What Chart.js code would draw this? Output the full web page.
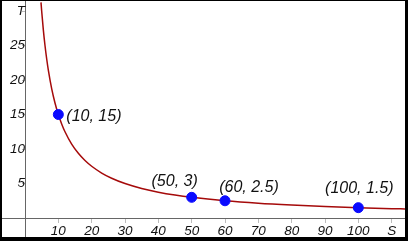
<!DOCTYPE html>
<html>
<head>
<meta charset="utf-8">
<script src="https://cdn.jsdelivr.net/npm/chart.js@4/dist/chart.umd.min.js"></script>
<style>
  html, body { margin: 0; padding: 0; background: #000; width: 408px; height: 241px; overflow: hidden; }
  #wrap { position: absolute; left: 2px; top: 1px; width: 403px; height: 236px; background: #fff; }
</style>
</head>
<body>
<div id="wrap"><canvas id="c"></canvas></div>
<script>
// Curve T versus S
const curveS = [4.8, 5, 5.5, 6, 6.5, 7, 8, 9, 10, 11, 12, 14, 16, 18, 20, 23, 26, 30, 35, 40, 45, 50, 60, 70, 80, 90, 100, 110, 114];
const curveT = [31.25, 30, 27.27, 25, 23.08, 21.43, 18.75, 16.67, 15, 13.64, 12.5, 10.71, 9.38, 8.33, 7.5, 6.52, 5.77, 5, 4.29, 3.75, 3.33, 3, 2.5, 2.14, 1.88, 1.67, 1.5, 1.36, 1.32];
// Highlighted points
const pointS = [10, 50, 60, 100];
const pointT = [15, 3, 2.5, 1.5];
// Tick labels
const xTicks = [10, 20, 30, 40, 50, 60, 70, 80, 90, 100];
const yTicks = [5, 10, 15, 20, 25];
const xAxisName = 'S';
const yAxisName = 'T';

const curveData = curveS.map((s, i) => ({ x: s, y: curveT[i] }));
const pointData = pointS.map((s, i) => ({ x: s, y: pointT[i] }));

const labelOffsets = [
  { dx: 8, dy: 2, align: 'left' },
  { dx: -17, dy: -16, align: 'center' },
  { dx: 24, dy: -13, align: 'center' },
  { dx: 1, dy: -19, align: 'center' }
];

const pointLabelPlugin = {
  id: 'pointLabels',
  afterDatasetsDraw(chart) {
    const ctx = chart.ctx;
    const xs = chart.scales.x, ys = chart.scales.y;
    ctx.save();
    ctx.font = 'italic 16px "Liberation Sans", Arial, sans-serif';
    ctx.fillStyle = '#111';
    ctx.textBaseline = 'middle';
    pointS.forEach((s, i) => {
      const px = xs.getPixelForValue(s);
      const py = ys.getPixelForValue(pointT[i]);
      const o = labelOffsets[i];
      ctx.textAlign = o.align;
      ctx.fillText('(' + s + ', ' + pointT[i] + ')', px + o.dx, py + o.dy);
    });
    ctx.restore();
  }
};

const zeroPad = (s) => { s.paddingLeft = 0; s.paddingRight = 0; s.paddingTop = 0; s.paddingBottom = 0; };

new Chart(document.getElementById('c'), {
  type: 'scatter',
  data: {
    datasets: [
      {
        type: 'line',
        data: curveData,
        borderColor: '#a50a0a',
        borderWidth: 1.5,
        pointRadius: 0,
        fill: false,
        cubicInterpolationMode: 'monotone',
        order: 2
      },
      {
        data: pointData,
        backgroundColor: '#0a0aff',
        borderColor: '#0a0aff',
        pointRadius: 5,
        order: 1
      }
    ]
  },
  options: {
    responsive: true,
    maintainAspectRatio: false,
    animation: false,
    layout: { padding: 0, autoPadding: false },
    plugins: { legend: { display: false }, tooltip: { enabled: false } },
    scales: {
      x: {
        type: 'linear',
        position: { y: 0 },
        min: -6.9,
        max: 114,
        afterFit: zeroPad,
        ticks: {
          stepSize: 10,
          includeBounds: false,
          autoSkip: false,
          maxRotation: 0,
          padding: 1,
          color: '#111',
          font: { family: '"Liberation Sans", Arial, sans-serif', size: 13.5, style: 'italic' },
          callback: (v) => v === 110 ? xAxisName : (xTicks.includes(v) ? String(v) : '')
        },
        grid: { drawOnChartArea: false, drawTicks: true, tickLength: 4, color: '#bbb' },
        border: { display: true, color: '#666', width: 1 }
      },
      y: {
        type: 'linear',
        position: { x: 0 },
        min: -2.75,
        max: 31.45,
        afterFit: zeroPad,
        ticks: {
          stepSize: 5,
          includeBounds: false,
          autoSkip: false,
          padding: 1,
          color: '#111',
          font: { family: '"Liberation Sans", Arial, sans-serif', size: 13.5, style: 'italic' },
          callback: (v) => v === 30 ? yAxisName : (yTicks.includes(v) ? String(v) : '')
        },
        grid: { drawOnChartArea: false, drawTicks: true, tickLength: 3, color: '#bbb' },
        border: { display: true, color: '#666', width: 1 }
      }
    }
  },
  plugins: [pointLabelPlugin]
});
</script>
</body>
</html>
